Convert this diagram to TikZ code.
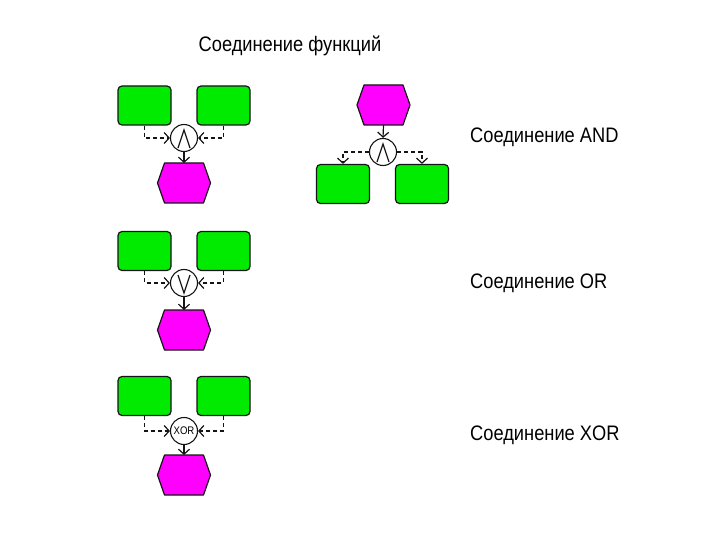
\documentclass[tikz,border=0pt]{standalone}
\usepackage{fontspec}
\setmainfont[FakeStretch=0.87]{Liberation Sans}
\usepackage{xcolor}
\usepackage{tikz}
\usetikzlibrary{
  arrows.meta,
  positioning,
  calc
}
\definecolor{FuncGreen}{RGB}{0,235,0}
\definecolor{EventPink}{RGB}{255,0,255}
\definecolor{LineBlack}{RGB}{20,20,20}
% hexagonal outline around an event node
\newcommand{\evhex}[1]{%
  \draw[evline] ($(#1.north west)+(7,0)$) -- ($(#1.north east)+(-7,0)$) -- (#1.east)
    -- ($(#1.south east)+(-7,0)$) -- ($(#1.south west)+(7,0)$) -- (#1.west) -- cycle;}
\tikzset{
  %%-- functions and events ----------------------------------
  func/.style = {
    rectangle, rounded corners = 4pt,
    draw = LineBlack, fill = FuncGreen, line width = 1.2pt,
    minimum width = 53pt, minimum height = 39pt, inner sep = 0pt
  },
  event/.style = {
    rectangle, minimum width = 53pt, minimum height = 40pt,
    inner sep = 0pt, outer sep = 0pt
  },
  evline/.style = {draw = LineBlack, fill = EventPink, line width = 1.2pt, line join = round},
  %%-- operators ---------------------------------------------
  gate/.style = {
    circle, draw = LineBlack, fill = white, line width = 1.1pt,
    minimum size = 27pt, inner sep = 0pt, font = \fontsize{11}{11}\selectfont
  },
  glyph/.style = {line width = 1.2pt, color = LineBlack},
  %%-- labels ------------------------------------------------
  title/.style = {font = \fontsize{21}{23}\selectfont, inner sep = 0pt},
  caption/.style = {font = \fontsize{21}{23}\selectfont, anchor = west, inner sep = 0pt},
  %%-- connectors --------------------------------------------
  flow/.style  = {-{Straight Barb[length=5pt, width=11pt]}, line width = 1.2pt, color = LineBlack},
  dflow/.style = {flow, dash pattern = on 4pt off 3pt},
}

\begin{document}
\begin{tikzpicture}[x = 1pt, y = -1pt]
  \useasboundingbox (0,0) rectangle (720,540);

  \node[title] (head) at (290,46) {Соединение функций};

  %% -- AND: two functions -> event ---------------------------
  \node[gate]  (g1)  at (184,138) {};
  \node[func]  (f1a) at (144.5,105.5) {};
  \node[func]  (f1b) at (223.5,105.5) {};
  \node[event] (e1)  at (184,183) {};
  \evhex{e1}
  \draw[glyph] ($(g1)+(-6,10)$) -- ($(g1)+(0,-8)$) -- ($(g1)+(6,10)$);
  \draw[dflow] (f1a.south) |- (g1.west);
  \draw[dflow] (f1b.south) |- (g1.east);
  \draw[flow]  (g1.south) -- (e1.north);

  %% -- AND: event -> two functions ---------------------------
  \node[event] (e2)  at (383.5,105) {};
  \evhex{e2}
  \node[gate]  (g2)  at (383,152) {};
  \node[func]  (f2a) at (343,184) {};
  \node[func]  (f2b) at (422,184) {};
  \draw[glyph] ($(g2)+(-6,10)$) -- ($(g2)+(0,-8)$) -- ($(g2)+(6,10)$);
  \draw[flow]  (e2.south) -- (g2.north);
  \draw[dflow] (g2.west) -| (f2a.north);
  \draw[dflow] (g2.east) -| (f2b.north);

  \node[caption] (lAnd) at (470,137) {Соединение AND};

  %% -- OR -----------------------------------------------------
  \node[gate]  (g3)  at (184,283) {};
  \node[func]  (f3a) at (144.5,251) {};
  \node[func]  (f3b) at (223.5,251) {};
  \node[event] (e3)  at (184,330) {};
  \evhex{e3}
  \draw[glyph] ($(g3)+(-6,-8)$) -- ($(g3)+(0,10)$) -- ($(g3)+(6,-8)$);
  \draw[dflow] (f3a.south) |- (g3.west);
  \draw[dflow] (f3b.south) |- (g3.east);
  \draw[flow]  (g3.south) -- (e3.north);

  \node[caption] (lOr) at (470,283) {Соединение OR};

  %% -- XOR ----------------------------------------------------
  \node[gate]  (g4)  at (184,431) {XOR};
  \node[func]  (f4a) at (144.5,396) {};
  \node[func]  (f4b) at (223.5,396) {};
  \node[event] (e4)  at (184,475) {};
  \evhex{e4}
  \draw[dflow] (f4a.south) |- (g4.west);
  \draw[dflow] (f4b.south) |- (g4.east);
  \draw[flow]  (g4.south) -- (e4.north);

  \node[caption] (lXor) at (470,435) {Соединение XOR};

\end{tikzpicture}
\end{document}
